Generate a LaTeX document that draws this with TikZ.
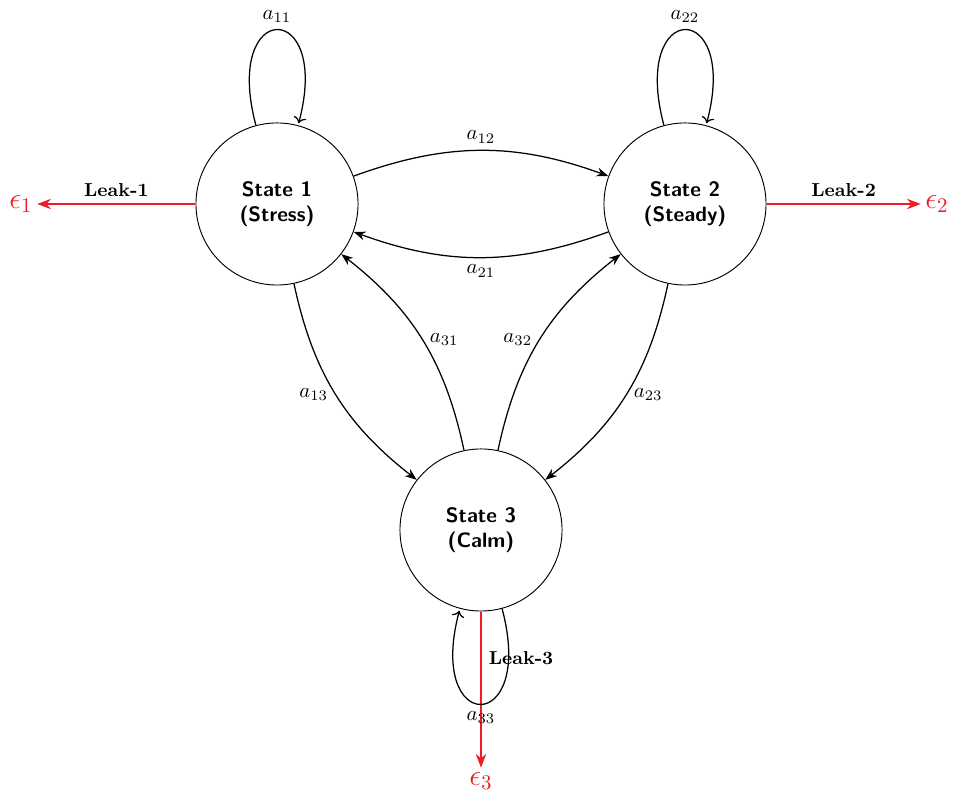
\documentclass[tikz,border=0pt]{standalone}
\usetikzlibrary{arrows.meta}
\definecolor{leakred}{RGB}{235,30,40}
\begin{document}
\begin{tikzpicture}[x=0.48pt,y=-0.48pt,
  state/.style={circle,draw,line width=0.45pt,minimum size=77.8pt,inner sep=0pt,align=center,font=\sffamily\bfseries},
  trans/.style={-{Stealth},semithick},
  leak/.style={-{Stealth},thick,leakred},
  leaklabel/.style={font=\small\bfseries,text=black},
  eps/.style={text=leakred,font=\Large,inner sep=2pt}
]
\useasboundingbox (0,0) rectangle (953,793);

\node[state] (s1) at (277,204) {State 1\\(Stress)};
\node[state] (s2) at (685,204) {State 2\\(Steady)};
\node[state] (s3) at (481,530) {State 3\\(Calm)};

\node[eps] (e1) at (21,204) {$\epsilon_1$};
\node[eps] (e2) at (937,204) {$\epsilon_2$};
\node[eps] (e3) at (481,781) {$\epsilon_3$};

\draw[leak] (s1) -- node[above,leaklabel] {Leak-1} (e1);
\draw[leak] (s2) -- node[above,leaklabel] {Leak-2} (e2);
\draw[leak] (s3) -- node[right,pos=0.3,leaklabel] {Leak-3} (e3);

\path[trans] (s1) edge[loop above] node[above] {$a_{11}$} (s1);
\path[trans] (s2) edge[loop above] node[above] {$a_{22}$} (s2);
\path[trans] (s3) edge[loop below] node[below] {$a_{33}$} (s3);

\draw[trans] (s1) to[bend left=20] node[above] {$a_{12}$} (s2);
\draw[trans] (s2) to[bend left=20] node[below] {$a_{21}$} (s1);
\draw[trans] (s1) to[bend right=20] node[left] {$a_{13}$} (s3);
\draw[trans] (s3) to[bend right=20] node[right] {$a_{31}$} (s1);
\draw[trans] (s3) to[bend left=20] node[left] {$a_{32}$} (s2);
\draw[trans] (s2) to[bend left=20] node[right] {$a_{23}$} (s3);
\end{tikzpicture}
\end{document}
